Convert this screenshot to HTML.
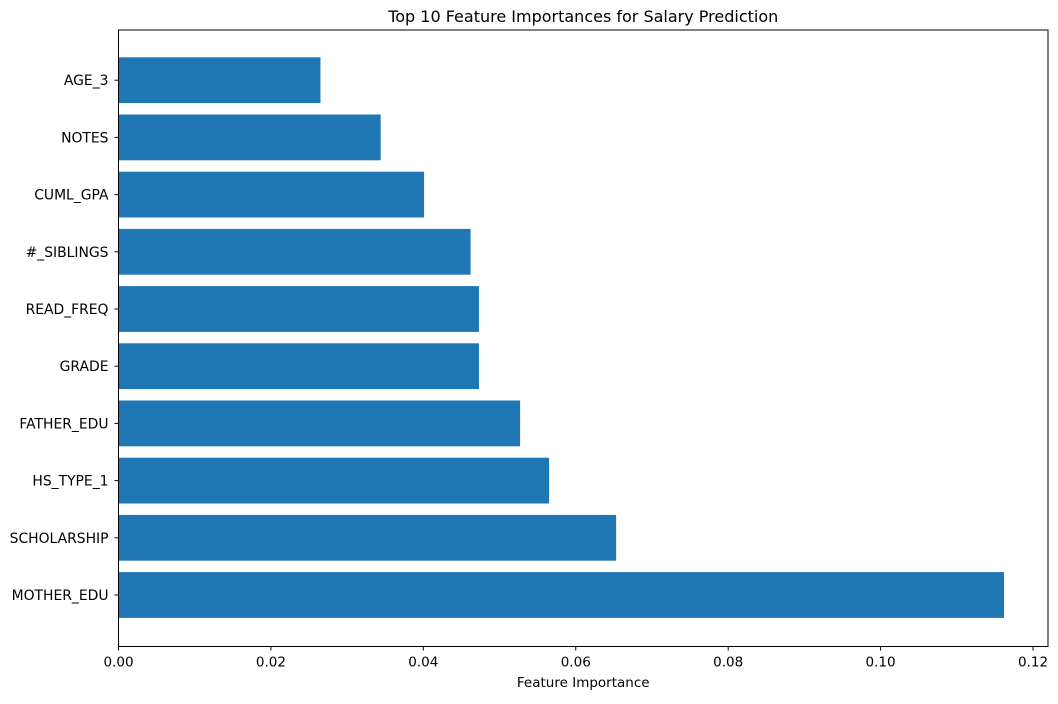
<!DOCTYPE html>
<html><head><meta charset="utf-8"><style>
body{margin:0;background:#fff;}
svg text{font-family:"DejaVu Sans","Liberation Sans",sans-serif;fill:#000;}
</style></head><body>
<svg id="chart" width="1058" height="699" xmlns="http://www.w3.org/2000/svg"></svg>
<script>
const categories=["MOTHER_EDU","SCHOLARSHIP","HS_TYPE_1","FATHER_EDU","GRADE","READ_FREQ","#_SIBLINGS","CUML_GPA","NOTES","AGE_3"];
const values=[0.1162,0.0653,0.0565,0.0527,0.0473,0.0473,0.0462,0.0401,0.0344,0.0265];
const xTicks=[0,0.02,0.04,0.06,0.08,0.10,0.12];
const xTickLabels=["0.00","0.02","0.04","0.06","0.08","0.10","0.12"];
const L=118.5,R=1048,T=30,B=646.5;
const xs=v=>L+v*(1033-L)/0.12;
const ys=i=>595-57.2*i;
const svg=document.getElementById('chart');
const NS="http://www.w3.org/2000/svg";
function mk(t,a){const e=document.createElementNS(NS,t);for(const k in a)e.setAttribute(k,a[k]);svg.appendChild(e);return e;}
categories.forEach((c,i)=>{
  const r=mk('rect',{x:L,y:ys(i)-22.9,width:xs(values[i])-L,height:45.8,fill:'#1f77b4'});
  
  
  mk('line',{x1:L-4,x2:L,y1:ys(i),y2:ys(i),stroke:'#000','stroke-width':1});
  const t=mk('text',{x:L-10,y:ys(i)+5,'text-anchor':'end','font-size':13.9});
  t.textContent=c;
  
  
});
xTicks.forEach((v,i)=>{
  mk('line',{x1:xs(v),x2:xs(v),y1:B,y2:B+4,stroke:'#000','stroke-width':1});
  const t=mk('text',{x:xs(v),y:B+20,'text-anchor':'middle','font-size':13.5});
  t.textContent=xTickLabels[i];
  
  
});
const f=mk('rect',{x:L,y:T,width:R-L,height:B-T,fill:'none',stroke:'#000','stroke-width':1});


const ti=mk('text',{x:(L+R)/2,y:22,'text-anchor':'middle','font-size':16});
ti.textContent="Top 10 Feature Importances for Salary Prediction";


const xl=mk('text',{x:(L+R)/2,y:687,'text-anchor':'middle','font-size':13.5});
xl.textContent="Feature Importance";


</script>
</body></html>
